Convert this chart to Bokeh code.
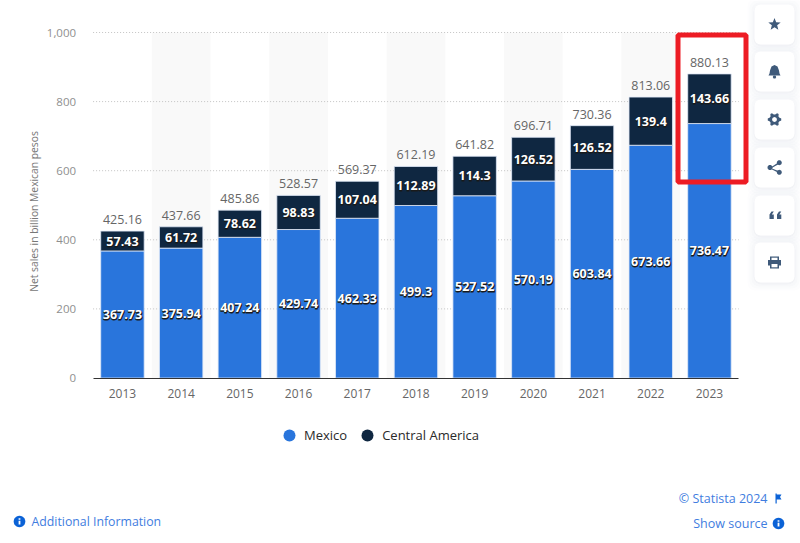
import math
from bokeh.plotting import figure
from bokeh.models import (ColumnDataSource, Label, BoxAnnotation, PolyAnnotation, Legend, LegendItem,
                          Range1d, FixedTicker, NumeralTickFormatter)
from bokeh.core.properties import value
from bokeh.embed import file_html
from bokeh.resources import INLINE

years = [2013, 2014, 2015, 2016, 2017, 2018, 2019, 2020, 2021, 2022, 2023]
mexico = [367.73, 375.94, 407.24, 429.74, 462.33, 499.3, 527.52, 570.19, 603.84, 673.66, 736.47]
central = [57.43, 61.72, 78.62, 98.83, 107.04, 112.89, 114.3, 126.52, 126.52, 139.4, 143.66]
totals = [425.16, 437.66, 485.86, 528.57, 569.37, 612.19, 641.82, 696.71, 730.36, 813.06, 880.13]
y_ticks = [0, 200, 400, 600, 800, 1000]
band_years = years[1::2]

FONT = "Open Sans"
BLUE = "#2975dc"
NAVY = "#0f2741"
LINK = "#3f7de0"
ICON = "#3f5a7a"

W, H = 800, 543
# frame fills the whole canvas; the ranges place the plot area inside it
PX_X = 58.7
PX_Y = 0.3455
X0 = 2012.5
X1 = 2023.5
x_range = Range1d(X0 - 92.6 / PX_X, X1 + (W - 738.3) / PX_X)
y_range = Range1d(-(H - 377.5) / PX_Y, 1000 + 32 / PX_Y)

p = figure(width=W, height=H, x_range=x_range, y_range=y_range,
           output_backend="svg", toolbar_location=None,
           min_border=0, min_border_left=0, min_border_right=0, min_border_top=0, min_border_bottom=0)
p.outline_line_color = None
p.background_fill_color = "white"
p.xgrid.visible = False
p.ygrid.visible = False

p.yaxis.fixed_location = X0
p.yaxis.bounds = (0, 1000)
p.yaxis.ticker = FixedTicker(ticks=y_ticks)
p.yaxis.formatter = NumeralTickFormatter(format="0,0")
p.yaxis.axis_line_color = None
p.yaxis.major_tick_line_color = None
p.yaxis.minor_tick_line_color = None
p.yaxis.major_label_standoff = 11
p.yaxis.major_label_text_font = FONT
p.yaxis.major_label_text_font_size = "11.5px"
p.yaxis.major_label_text_color = "#8f8f8f"

p.xaxis.fixed_location = 0
p.xaxis.bounds = (X0, X1)
p.xaxis.ticker = FixedTicker(ticks=years)
p.xaxis.formatter = NumeralTickFormatter(format="0")
p.xaxis.axis_line_color = "#333333"
p.xaxis.axis_line_width = 1
p.xaxis.major_tick_line_color = None
p.xaxis.minor_tick_line_color = None
p.xaxis.major_label_standoff = 5
p.xaxis.major_label_text_font = FONT
p.xaxis.major_label_text_font_size = "12px"
p.xaxis.major_label_text_color = "#666666"

p.vbar(x=band_years, top=1000, bottom=0, width=1.0, fill_color="#f9f9f9", line_color=None)
p.segment(x0=[X0] * 5, x1=[X1] * 5, y0=y_ticks[1:], y1=y_ticks[1:], line_color="#c4c4c4", line_width=1, line_dash="1 2")

src = ColumnDataSource(dict(
    year=years, mexico=mexico, central=central, total=totals,
    bottom2=[m for m in mexico],
    top2=[m + c for m, c in zip(mexico, central)],
    mid1=[m / 2 for m in mexico],
    mid2=[m + c / 2 for m, c in zip(mexico, central)],
    t_mex=[str(v) for v in mexico],
    t_cen=[str(v) for v in central],
    t_tot=[str(v) for v in totals],
))
WIDTH = 0.74
p.vbar(x="year", top="mexico", bottom=0, width=WIDTH, source=src, fill_color=BLUE, line_color="#dfe9f7", line_width=0.8)
p.vbar(x="year", top="top2", bottom="bottom2", width=WIDTH, source=src, fill_color=NAVY, line_color="#dfe9f7", line_width=0.8)

for yc, tx in (("mid1", "t_mex"), ("mid2", "t_cen")):
    p.text(x="year", y=yc, text=tx, source=src, text_align="center", text_baseline="middle",
           x_offset=0.5, y_offset=1,
           text_font=value(FONT), text_font_style="bold", text_font_size="12.5px", text_color="#1a1a1a",
           text_outline_color="#1a1a1a")
    p.text(x="year", y=yc, text=tx, source=src, text_align="center", text_baseline="middle",
           text_font=value(FONT), text_font_style="bold", text_font_size="12.5px", text_color="white")
p.text(x="year", y="top2", text="t_tot", source=src, text_align="center", text_baseline="bottom",
       y_offset=-7, text_font=value(FONT), text_font_size="12.5px", text_color="#666666")

# legend
dot1 = p.scatter(x=[years[0]], y=[float("nan")], marker="circle", size=12, fill_color=BLUE, line_color=None)
dot2 = p.scatter(x=[years[0]], y=[float("nan")], marker="circle", size=12, fill_color=NAVY, line_color=None)
legend = Legend(items=[LegendItem(label="Mexico", renderers=[dot1]),
                       LegendItem(label="Central America", renderers=[dot2])],
                orientation="horizontal", location=(274, 93), glyph_width=30, glyph_height=30,
                label_standoff=-4, spacing=5, margin=0, padding=0,
                background_fill_alpha=0, border_line_color=None,
                label_text_font=FONT, label_text_font_size="13px", label_text_color="#2a2a2a",
                label_text_font_style="normal")
p.add_layout(legend, "center")


def sx(X):
    return X


def sy(Y):
    return H - Y


def label(X, Y, text, color, size="12px", align="left", angle=0, baseline="middle", style="normal"):
    p.add_layout(Label(x=sx(X), y=sy(Y), x_units="screen", y_units="screen", text=text, text_color=color,
                       text_font=FONT, text_font_size=size, text_align=align, text_baseline=baseline,
                       angle=angle, text_font_style=style))


def box(x0, y0, x1, y1, fill="white", alpha=1.0, line=None, lw=1, radius=0):
    p.add_layout(BoxAnnotation(left=sx(x0), right=sx(x1), top=sy(y0), bottom=sy(y1),
                               left_units="screen", right_units="screen", top_units="screen", bottom_units="screen",
                               fill_color=fill, fill_alpha=alpha, line_color=line, line_alpha=1, line_width=lw,
                               border_radius=radius, level="annotation"))


def poly(pts, fill=ICON):
    p.add_layout(PolyAnnotation(xs=[sx(a) for a, _ in pts], ys=[sy(b) for _, b in pts],
                                xs_units="screen", ys_units="screen", fill_color=fill, fill_alpha=1,
                                line_color=None, level="annotation"))


def disc(cx, cy, r, fill=ICON):
    poly([(cx + r * math.cos(i * math.pi / 12), cy + r * math.sin(i * math.pi / 12)) for i in range(24)], fill)


label(33, 211, "Net sales in billion Mexican pesos", "#777777", size="10.3px", align="center", angle=math.pi / 2)

# highlight rectangle
box(677.5, 34.5, 745.5, 181.5, fill=None, alpha=0, line="#ed1c24", lw=5)

# side buttons
centers = [24, 71, 119, 167, 215, 262]
for c in centers:
    for g, a in ((7, 0.012), (5, 0.015), (3, 0.02), (1, 0.03)):
        box(754 - g, c - 20 - g + 1, 794 + g, c + 20 + g + 1, fill="#5a6f8c", alpha=a, radius=8)
    box(754, c - 20, 794, c + 20, fill="white", radius=6)

# star
cx, cy = 774, centers[0]
poly([(cx + (6.5 if i % 2 == 0 else 2.8) * math.sin(i * math.pi / 5),
       cy - (6.5 if i % 2 == 0 else 2.8) * math.cos(i * math.pi / 5)) for i in range(10)])
# bell
cy = centers[1]
poly([(774, cy - 6.5), (777, cy - 5), (778.5, cy - 1), (779, cy + 2), (780, cy + 4), (768, cy + 4), (769, cy + 2),
      (769.5, cy - 1), (771, cy - 5)])
disc(774, cy + 5.5, 1.6)
# gear
cy = centers[2]
poly([(774 + (6.8 if (i % 4) in (0, 1) else 5) * math.cos((i - 0.5) * math.pi / 12),
       cy + (6.8 if (i % 4) in (0, 1) else 5) * math.sin((i - 0.5) * math.pi / 12)) for i in range(24)])
disc(774, cy, 2.4, "white")
# share
cy = centers[3]
poly([(778.5, cy - 5.5), (779.3, cy - 4), (770.8, cy + 0.7), (779.3, cy + 4), (778.5, cy + 5.5), (769, cy + 0.7)])
disc(778.8, cy - 4.8, 2.5)
disc(778.8, cy + 4.8, 2.5)
disc(769.5, cy, 2.5)
# quotes
cy = centers[4]
for qx in (769, 776.5):
    poly([(qx + 2, cy - 4), (qx + 4.3, cy - 4), (qx + 2.3, cy - 1), (qx + 4.3, cy - 1), (qx + 4.3, cy + 3.5),
          (qx, cy + 3.5), (qx, cy - 1)])
# printer
cy = centers[5]
poly([(769.5, cy - 6), (778.5, cy - 6), (778.5, cy - 2.5), (780.5, cy - 2.5), (780.5, cy + 3), (778.5, cy + 3),
      (778.5, cy + 6), (769.5, cy + 6), (769.5, cy + 3), (767.5, cy + 3), (767.5, cy - 2.5), (769.5, cy - 2.5)])
poly([(771, cy - 4.8), (777, cy - 4.8), (777, cy - 2.5), (771, cy - 2.5)], "white")
poly([(771, cy + 1.5), (777, cy + 1.5), (777, cy + 4.8), (771, cy + 4.8)], "white")

# footer
label(767, 498, "© Statista 2024", LINK, size="12.5px", align="right")
label(767, 523, "Show source", LINK, size="12.5px", align="right")
label(31, 521, "Additional Information", LINK, size="12.3px")
INFO = "#0b62d6"
for ix, iy in ((778, 523), (19, 521)):
    disc(ix, iy, 5.8, INFO)
    poly([(ix - 0.9, iy - 0.8), (ix + 0.9, iy - 0.8), (ix + 0.9, iy + 3), (ix - 0.9, iy + 3)], "white")
    poly([(ix - 0.9, iy - 3.2), (ix + 0.9, iy - 3.2), (ix + 0.9, iy - 1.8), (ix - 0.9, iy - 1.8)], "white")
poly([(775, 493), (776.2, 493), (776.2, 494), (781, 494), (779.5, 496.5), (781, 499), (776.2, 499), (776.2, 503),
      (775, 503)], INFO)

open("out.html", "w").write(file_html(p, INLINE))
